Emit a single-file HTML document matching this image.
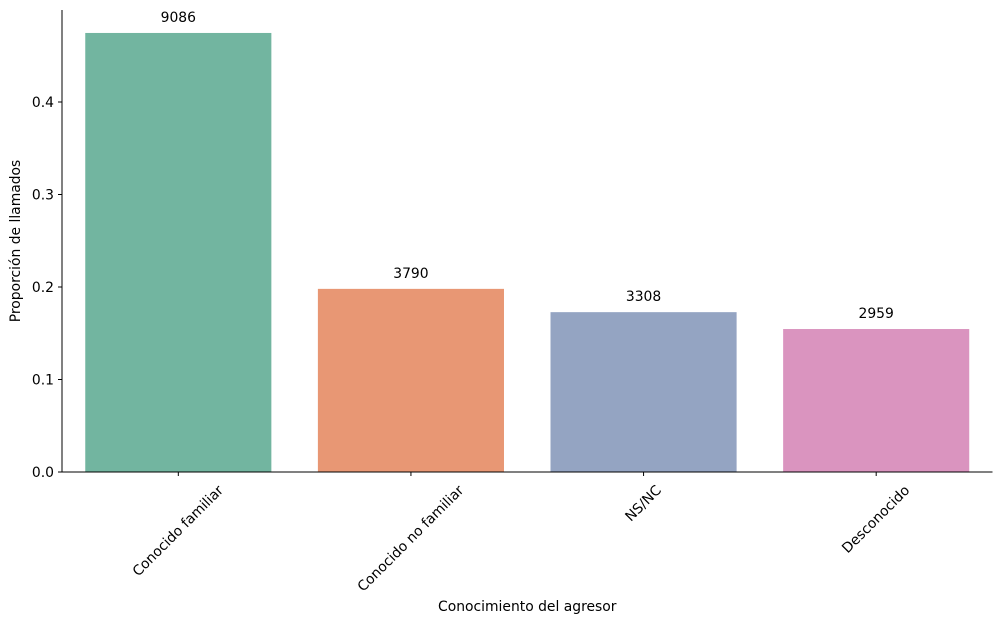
<!DOCTYPE html>
<html><head><meta charset="utf-8"><style>
body{margin:0;background:#fff;}
svg{display:block;font-family:"DejaVu Sans","Liberation Sans",sans-serif;}
</style></head><body>
<svg id="chart" width="1001" height="623"></svg>
<script>
const categories=["Conocido familiar","Conocido no familiar","NS/NC","Desconocido"];
const counts=[9086,3790,3308,2959];
const colors=["#72b5a0","#e89774","#94a4c2","#da94bf"];
const yTicks=[0.0,0.1,0.2,0.3,0.4];
const svg=document.getElementById('chart');
const NS='http://www.w3.org/2000/svg';
const FS=13.9;
const x0=62,x1=992.5,y0=472,pxPerUnit=925,yTop=10;
const band=(x1-x0)/categories.length;
const total=counts.reduce((a,b)=>a+b,0);
const yScale=v=>y0-v*pxPerUnit;
const xCenter=i=>x0+band*(i+0.5);
function mk(tag,attrs,parent){const e=document.createElementNS(NS,tag);for(const k in attrs)e.setAttribute(k,attrs[k]);(parent||svg).appendChild(e);return e;}
categories.forEach((c,i)=>{
  const v=counts[i]/total;
  const w=band*0.8;
  const r=mk('rect',{x:xCenter(i)-w/2,y:yScale(v),width:w,height:y0-yScale(v),fill:colors[i]});
  
  
  const t=mk('text',{x:xCenter(i),y:yScale(v)-11,'text-anchor':'middle','font-size':FS});
  t.textContent=counts[i];
  
  
  const tk=mk('line',{x1:xCenter(i),x2:xCenter(i),y1:y0,y2:y0+4,stroke:'#000'});
  
  
  const l=mk('text',{x:0,y:0,'text-anchor':'middle','font-size':FS,'dominant-baseline':'central'});
  l.textContent=c;
  
  
  const len=l.getComputedTextLength();
  const cx=xCenter(i),cy=y0+12+(len/2+6)*0.707;
  l.setAttribute('x',cx);l.setAttribute('y',cy);
  l.setAttribute('transform',`rotate(-45 ${cx} ${cy})`);
});
yTicks.forEach(v=>{
  const y=yScale(v);
  const tk=mk('line',{x1:x0-4,x2:x0,y1:y,y2:y,stroke:'#000'});
  
  
  const t=mk('text',{x:x0-8,y:y+5,'text-anchor':'end','font-size':FS});
  t.textContent=v.toFixed(1);
  
  
});
const ya=mk('line',{x1:x0,x2:x0,y1:yTop,y2:y0,stroke:'#000'});


const xa=mk('line',{x1:x0,x2:x1,y1:y0,y2:y0,stroke:'#000'});


const xt=mk('text',{x:(x0+x1)/2,y:611,'text-anchor':'middle','font-size':FS});
xt.textContent='Conocimiento del agresor';


const yt=mk('text',{x:20,y:241,'text-anchor':'middle','font-size':FS,transform:'rotate(-90 20 241)'});
yt.textContent='Proporción de llamados';


</script>
</body></html>
